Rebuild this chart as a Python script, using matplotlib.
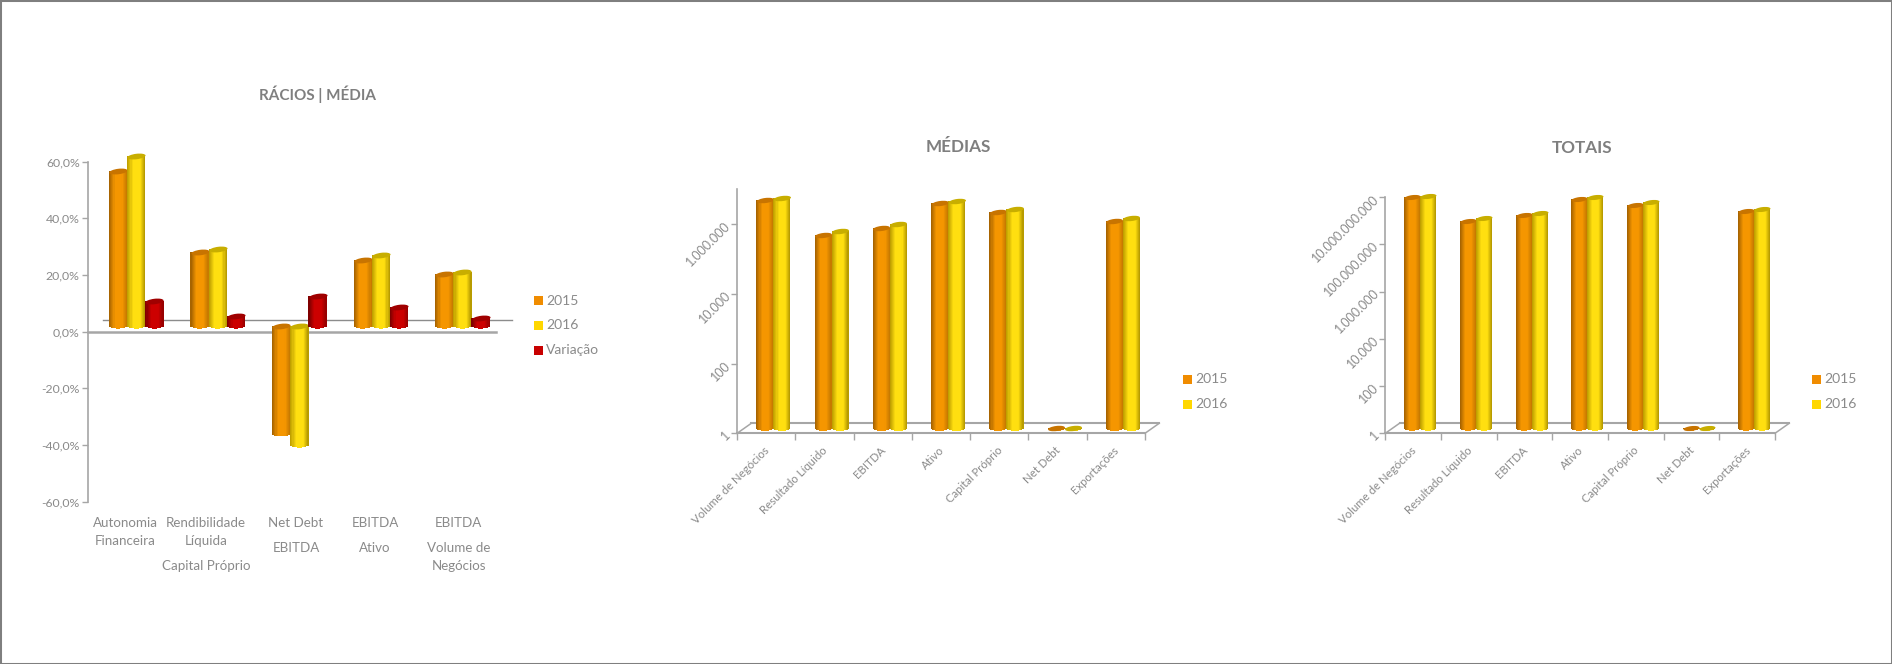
import numpy as np
import matplotlib
matplotlib.use("Agg")
import matplotlib.pyplot as plt
from matplotlib.lines import Line2D
from matplotlib.markers import MarkerStyle
from matplotlib.patches import Rectangle
from matplotlib.transforms import Affine2D

plt.rcParams["font.family"] = ["Lato", "DejaVu Sans"]

W, H = 1892, 664
CINZA = "#8a8a8a"
EIXO = "#a6a6a6"

# dados - rácios
racios_2015 = [54.8, 26.2, -38.0, 23.3, 18.2]
racios_2016 = [59.8, 27.0, -42.0, 25.0, 19.0]
racios_var = [8.8, 3.4, 10.6, 6.8, 2.7]
racios_ticks = [-60, -40, -20, 0, 20, 40, 60]
racios_ticklabels = ["-60,0%", "-40,0%", "-20,0%", "0,0%", "20,0%", "40,0%", "60,0%"]
racios_linhas = [
    ["Autonomia", "Financeira"],
    ["Rendibilidade", "Líquida", "Capital Próprio"],
    ["Net Debt", "EBITDA"],
    ["EBITDA", "Ativo"],
    ["EBITDA", "Volume de", "Negócios"],
]
racios_linhas_y = [
    [523, 541],
    [523, 541, 565.5],
    [523, 548],
    [523, 548],
    [523, 548, 565.5],
]
racios_linhas_x = [125, 206, 296, 375, 458.6]

# dados - médias e totais
categorias = ["Volume de Negócios", "Resultado Líquido", "EBITDA", "Ativo",
              "Capital Próprio", "Net Debt", "Exportações"]
medias_2015 = [3.47e6, 3.47e5, 5.75e5, 2.95e6, 1.62e6, 1, 8.9e5]
medias_2016 = [4.07e6, 4.57e5, 7.08e5, 3.31e6, 1.9e6, 1, 1.07e6]
medias_ticks = [1, 100, 10000, 1000000]
medias_ticklabels = ["1", "100", "10.000", "1.000.000"]
totais_2015 = [5.9e9, 6.2e8, 1.02e9, 5.0e9, 2.9e9, 1, 1.62e9]
totais_2016 = [7.1e9, 8.3e8, 1.29e9, 5.9e9, 3.6e9, 1, 2.0e9]
totais_ticks = [1, 100, 10000, 1000000, 100000000, 10000000000]
totais_ticklabels = ["1", "100", "10.000", "1.000.000", "100.000.000", "10.000.000.000"]

# cores de cada cilindro: esquerda, meio, direita, tampa, legenda
CORES = {
    "2015": ("#a86400", "#f59600", "#c87a00", "#c87400", "#f08c00"),
    "2016": ("#c0a000", "#ffdf10", "#b89c00", "#c8ae00", "#ffd700"),
    "Variação": ("#800000", "#cc0000", "#980000", "#a00000", "#c80000"),
}


def eixo_px(x0, y0, x1, y1):
    # cria um axes a partir de coordenadas em pixeis (origem em cima)
    a = fig.add_axes([x0 / W, 1 - y1 / H, (x1 - x0) / W, (y1 - y0) / H])
    a.patch.set_visible(False)
    return a


def linha_px(x0, y0, x1, y1, lw=1.5, cor=EIXO):
    # zorder negativo para as linhas ficarem por trás das barras
    fig.add_artist(Line2D([x0 / W, x1 / W], [1 - y0 / H, 1 - y1 / H], color=cor, lw=lw, zorder=-1))


def cilindros(ax, xs, valores, largura, largura_px, base, nome, z):
    esq, meio, dir_, tampa, _ = CORES[nome]
    n = 16
    t = np.linspace(0, 1, n)
    rgb = np.array([matplotlib.colors.to_rgb(c) for c in (esq, meio, meio, dir_)])
    pos = [0, 0.32, 0.72, 1]
    cores = np.column_stack([np.interp(t, pos, rgb[:, i]) for i in range(3)])
    forma = MarkerStyle("o", transform=Affine2D().scale(1, 0.3).rotate_deg(7))
    s = (largura_px * 0.72) ** 2
    inv = ax.transData.inverted()
    meia_altura = largura_px * 0.15
    for x, v in zip(xs, valores):
        alto, baixo = max(v, base), min(v, base)
        y_disp = ax.transData.transform((x, baixo))[1]
        for k in range(n):
            u = (k + 0.5) / n
            xk = x - largura / 2 + largura * u
            # o fundo de cada faixa segue a curva da elipse
            extra = meia_altura * np.sqrt(1 - (2 * u - 1) ** 2)
            fundo = inv.transform((0, y_disp - extra))[1]
            ax.bar(xk, alto - fundo, largura / n * 1.15, bottom=fundo, color=cores[k], lw=0,
                   zorder=z + 0.1, clip_on=False)
        ax.scatter([x], [alto], s=s, marker=forma, color=tampa, lw=0, zorder=z + 0.2, clip_on=False)


def camada_barras(x0, y0, x1, y1, dx, dy, xlim, ylim, log=False):
    a = eixo_px(x0 + dx, y0 - dy, x1 + dx, y1 - dy)
    a.axis("off")
    if log:
        a.set_yscale("log")
    a.set_xlim(xlim)
    a.set_ylim(ylim)
    a.set_autoscale_on(False)
    return a


def legenda(nomes, x, ys):
    for nome, y in zip(nomes, ys):
        fig.add_artist(Rectangle((x / W, 1 - (y + 4.5) / H), 8.5 / W, 9 / H,
                                 color=CORES[nome][4], lw=0, transform=fig.transFigure))
        fig.text((x + 12) / W, 1 - y / H, nome, color=CINZA, fontsize=10, ha="left", va="center")


def painel_log(x0, x1, y_topo, ylim, ticks, ticklabels, v15, v16, titulo, titulo_xy, leg_x, largura_px):
    y_base = 433.3
    n = len(categorias)
    ax = eixo_px(x0, y_topo, x1, y_base)
    ax.set_yscale("log")
    ax.set_xlim(0, n)
    ax.set_ylim(ylim)
    for lado in ("top", "right", "bottom"):
        ax.spines[lado].set_visible(False)
    ax.spines["left"].set_color(EIXO)
    ax.spines["left"].set_linewidth(1.2)
    ax.set_yticks(ticks)
    ax.set_yticklabels(ticklabels, rotation=45, ha="right", va="center", rotation_mode="anchor",
                       color=CINZA, fontsize=9)
    ax.minorticks_off()
    ax.set_xticks(range(n + 1))
    ax.set_xticklabels([])
    ax.tick_params(axis="both", color=EIXO, width=1, length=4, pad=2)
    ax.tick_params(axis="x", length=5)
    # chão em perspetiva
    linha_px(x0, y_base, x1, y_base)
    linha_px(x0 + 14.2, y_base - 10, x1 + 14.2, y_base - 10)
    linha_px(x0, y_base, x0 + 14.2, y_base - 10, lw=1.1)
    linha_px(x1, y_base, x1 + 14.2, y_base - 10, lw=1.1)
    # rótulos das categorias
    for i, c in enumerate(categorias):
        ax.annotate(c, (i + 0.5, 1), xytext=(1, -11), textcoords="offset points", rotation=45,
                    rotation_mode="anchor", ha="right", va="center", color=CINZA, fontsize=8.2)
    barras = camada_barras(x0, y_topo, x1, y_base, 7.1, 5, (0, n), ylim, log=True)
    w = largura_px / ((x1 - x0) / n)
    xs = np.arange(n) + 0.5
    cilindros(barras, xs - w / 2, v15, w, largura_px, 1, "2015", 3)
    cilindros(barras, xs + w / 2, v16, w, largura_px, 1, "2016", 4)
    fig.text(titulo_xy[0] / W, 1 - titulo_xy[1] / H, titulo, color="#7f7f7f", fontsize=12.3,
             fontweight="bold", ha="center", va="center")
    legenda(["2015", "2016"], leg_x, [379, 404])


fig = plt.figure(figsize=(W / 100, H / 100), dpi=100, facecolor="white")

# moldura
fig.add_artist(Rectangle((0, 0), 1, 1, fill=False, edgecolor="#7f7f7f", lw=2.2, transform=fig.transFigure))

# painel 1 - rácios
x0, x1, y0, y1 = 88, 495.7, 161.7, 501.7
ax1 = eixo_px(x0, y0, x1, y1)
ax1.set_xlim(0, 5)
ax1.set_ylim(-60, 60)
for lado in ("top", "right", "bottom"):
    ax1.spines[lado].set_visible(False)
ax1.spines["left"].set_color(EIXO)
ax1.spines["left"].set_linewidth(1.2)
ax1.set_xticks([])
ax1.set_yticks(racios_ticks)
ax1.set_yticklabels(racios_ticklabels, color=CINZA, fontsize=8.8)
ax1.tick_params(axis="y", color=EIXO, width=1, length=4, pad=2)
linha_px(x0, 331.7, x1, 331.7, lw=1.8)
linha_px(102.9, 320, 511.8, 320, lw=1, cor="#8c8c8c")
for linhas, ys, x in zip(racios_linhas, racios_linhas_y, racios_linhas_x):
    for texto, y in zip(linhas, ys):
        fig.text(x / W, 1 - y / H, texto, color=CINZA, fontsize=9.6, ha="center", va="center")

barras1 = camada_barras(x0, y0, x1, y1, 7.5, 5.8, (0, 5), (-60, 60))
larg1 = 18.2
w1 = larg1 / ((x1 - x0) / 5)
xs1 = np.arange(5) + 0.5
cilindros(barras1, xs1 - w1, racios_2015, w1, larg1, 0, "2015", 3)
cilindros(barras1, xs1, racios_2016, w1, larg1, 0, "2016", 4)
cilindros(barras1, xs1 + w1, racios_var, w1, larg1, 0, "Variação", 5)
fig.text(317 / W, 1 - 94 / H, "RÁCIOS | MÉDIA", color="#7f7f7f", fontsize=11, fontweight="bold",
         ha="center", va="center")
legenda(["2015", "2016", "Variação"], 534, [300.7, 325, 350])

# painel 2 - médias
painel_log(737.1, 1145, 189.3, (1, 1e7), medias_ticks, medias_ticklabels, medias_2015, medias_2016,
           "MÉDIAS", (958.6, 147), 1183, 17)

# painel 3 - totais
painel_log(1385.3, 1775, 197, (1, 1e10), totais_ticks, totais_ticklabels, totais_2015, totais_2016,
           "TOTAIS", (1582, 148), 1812, 16)

fig.savefig("out.png", dpi=100)
